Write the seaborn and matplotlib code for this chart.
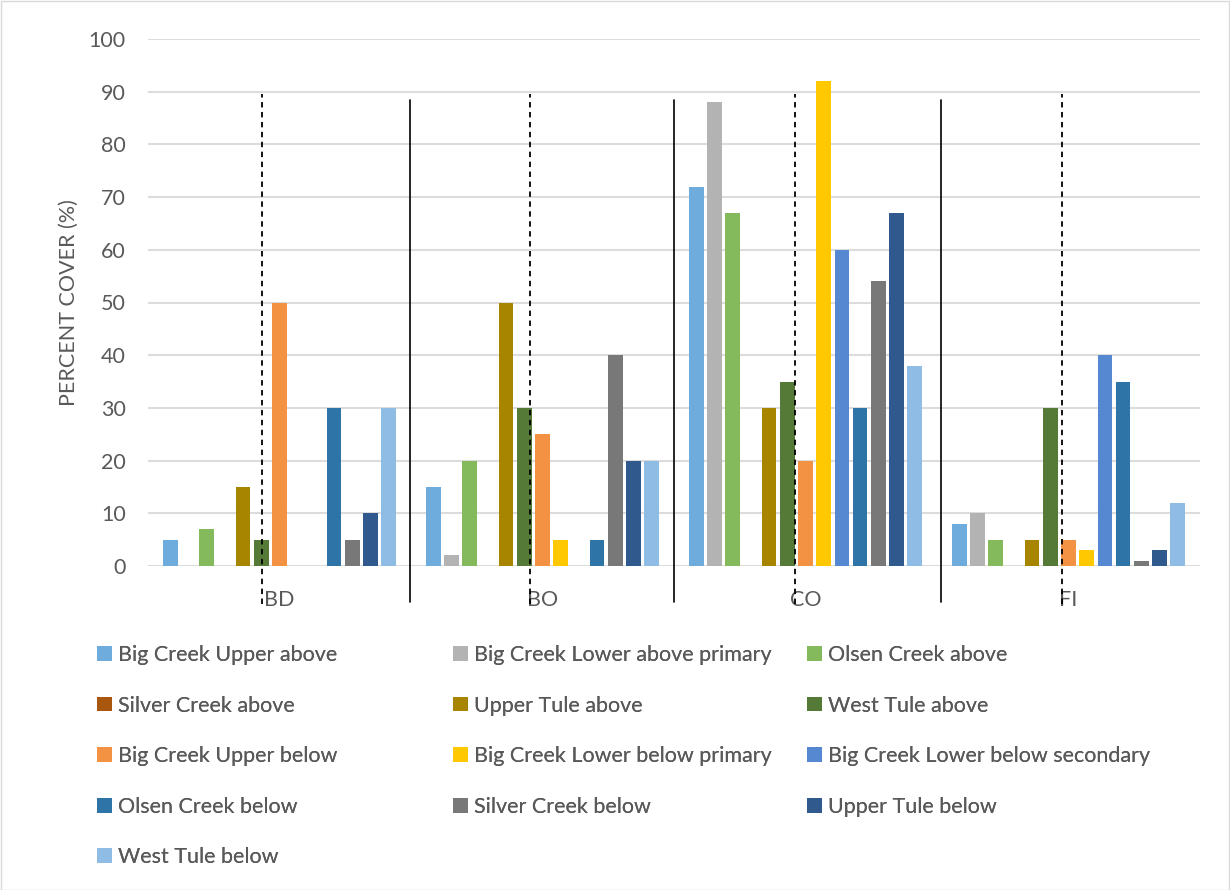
import matplotlib
matplotlib.use("Agg")
import matplotlib.pyplot as plt
from matplotlib.patches import Patch, Rectangle
import seaborn as sns
import pandas as pd

categories = ["BD", "BO", "CO", "FI"]
series = [
    "Big Creek Upper above", "Big Creek Lower above primary", "Olsen Creek above",
    "Silver Creek above", "Upper Tule above", "West Tule above",
    "Big Creek Upper below", "Big Creek Lower below primary", "Big Creek Lower below secondary",
    "Olsen Creek below", "Silver Creek below", "Upper Tule below", "West Tule below",
]
colors = [
    "#6EACDE", "#B3B3B3", "#84BA5C", "#A9560E", "#A88500", "#557A38",
    "#F39242", "#FFC800", "#5588D0", "#2E74A6", "#787878", "#305A8E", "#8EBCE5",
]
values = {
    "Big Creek Upper above":          [5, 15, 72, 8],
    "Big Creek Lower above primary":  [0, 2, 88, 10],
    "Olsen Creek above":              [7, 20, 67, 5],
    "Silver Creek above":             [0, 0, 0, 0],
    "Upper Tule above":               [15, 50, 30, 5],
    "West Tule above":                [5, 30, 35, 30],
    "Big Creek Upper below":          [50, 25, 20, 5],
    "Big Creek Lower below primary":  [0, 5, 92, 3],
    "Big Creek Lower below secondary":[0, 0, 60, 40],
    "Olsen Creek below":              [30, 5, 30, 35],
    "Silver Creek below":             [5, 40, 54, 1],
    "Upper Tule below":               [10, 20, 67, 3],
    "West Tule below":                [30, 20, 38, 12],
}
yticks = [0, 10, 20, 30, 40, 50, 60, 70, 80, 90, 100]
ylabel = "PERCENT COVER (%)"

rows = []
for s in series:
    for c, v in zip(categories, values[s]):
        rows.append({"category": c, "series": s, "value": v})
df = pd.DataFrame(rows)

sns.set_theme(style="white")
plt.rcParams["font.family"] = ["Lato", "DejaVu Sans"]
TXT = "#595959"
FS = 15.5

fig = plt.figure(figsize=(12.3, 8.9), dpi=100)
ax = fig.add_axes([148/1230, 1 - 566/890, 1052/1230, 527/890])

sns.barplot(data=df, x="category", y="value", hue="series", hue_order=series,
            order=categories, palette=colors, saturation=1, width=0.9, gap=0.2,
            linewidth=0, errorbar=None, legend=False, ax=ax)

ax.set_ylim(0, 100)
ax.set_xlim(-0.5, 3.5)
ax.set_yticks(yticks)
ax.yaxis.grid(True, color="#DCDCDC", linewidth=1.5)
ax.set_axisbelow(True)
for sp in ax.spines.values():
    sp.set_visible(False)
ax.tick_params(axis="both", length=0, labelsize=FS, colors=TXT)
ax.tick_params(axis="y", pad=16)
ax.tick_params(axis="x", pad=17)
ax.set_xlabel("")
ax.set_ylabel(ylabel, fontsize=FS, color=TXT, labelpad=7)

# drawn annotation lines (solid at group boundaries, dashed inside groups)
solid_x = [0.496, 1.5, 2.515]
dashed_x = [-0.0665, 0.9525, 1.96, 2.975]
for x in solid_x:
    ax.plot([x, x], [-6.8, 88.5], color="black", linewidth=1.2, clip_on=False, zorder=5)
for x in dashed_x:
    ax.plot([x, x], [-7.2, 89.5], color="black", linewidth=1.3, linestyle=(0, (3, 2.5)),
            clip_on=False, zorder=5)

# legend: three columns, row-major
handles = [Patch(facecolor=c, edgecolor="none", label=s) for s, c in zip(series, colors)]
col_x = [97/1230, 453/1230, 807/1230]
top_y = 1 - 645/890
for j in range(3):
    hs = handles[j::3]
    leg = fig.legend(handles=hs, loc="upper left", bbox_to_anchor=(col_x[j], top_y),
                     frameon=False, fontsize=FS, handlelength=0.68, handleheight=0.68,
                     handletextpad=0.3, labelspacing=1.42, borderpad=0, borderaxespad=0)
    for t in leg.get_texts():
        t.set_color(TXT)
    fig.add_artist(leg)

fig.add_artist(Rectangle((0.5/1230, 0.5/890), 1 - 1.5/1230, 1 - 1.5/890,
                         transform=fig.transFigure, fill=False,
                         edgecolor="#D9D9D9", linewidth=1))

fig.savefig("out.png", dpi=100, facecolor="white")
